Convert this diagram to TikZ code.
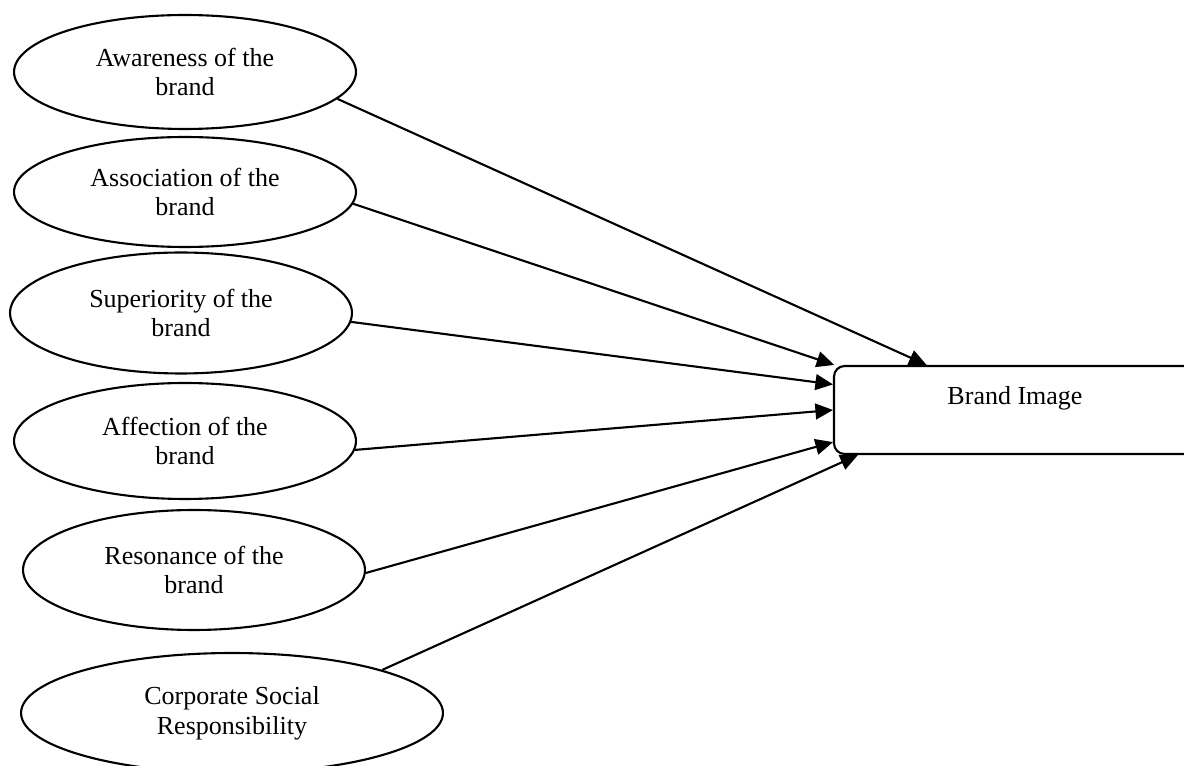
\documentclass[tikz,border=0pt]{standalone}
\usepackage{fontspec}
\setmainfont{Liberation Serif}
\usepackage{tikz}
\usetikzlibrary{shapes.geometric,arrows.meta}

\tikzset{
    factor/.style={draw, ellipse, line width=1.2pt, inner sep=0pt, align=center,
        minimum width=6.84cm, minimum height=2.3cm},
    outcome/.style={draw, rectangle, rounded corners=6pt, line width=1.2pt,
        minimum width=7.24cm, minimum height=1.76cm, text height=10pt, text depth=15.7pt},
    link/.style={line width=1.2pt, -{Triangle[length=10pt, width=9pt]}}
}

\begin{document}
\begin{tikzpicture}[x=0.02cm, y=-0.02cm, font=\fontsize{14.8}{17}\selectfont]
        \clip (0,0) rectangle (1184,766);

        % Dimensions.
        \node[factor, minimum height=2.28cm] (aware) at (185,72) {Awareness of the\\brand};
        \node[factor, minimum height=2.2cm] (assoc) at (185,192) {Association of the\\brand};
        \node[factor, minimum height=2.42cm] (super) at (181,313) {Superiority of the\\brand};
        \node[factor, minimum height=2.32cm] (affect) at (185,441) {Affection of the\\brand};
        \node[factor, minimum height=2.4cm] (reson) at (194,570) {Resonance of the\\brand};
        \node[factor, minimum width=8.44cm, minimum height=2.4cm] (csr) at (232,713) {Corporate Social\\Responsibility};

        % Brand image.
        \node[outcome] (image) at (1015,410) {Brand Image};

        % Links.
        \draw[link] (aware.-10) -- (image.153.4);
        \draw[link] (assoc.-4.5) -- (image.166.3);
        \draw[link] (super.-3.6) -- (image.172.2);
        \draw[link] (affect.-3) -- (image.180);
        \draw[link] (reson.-1.5) -- (image.190.6);
        \draw[link] (csr.16) -- (image.196);
    \end{tikzpicture}
\end{document}
